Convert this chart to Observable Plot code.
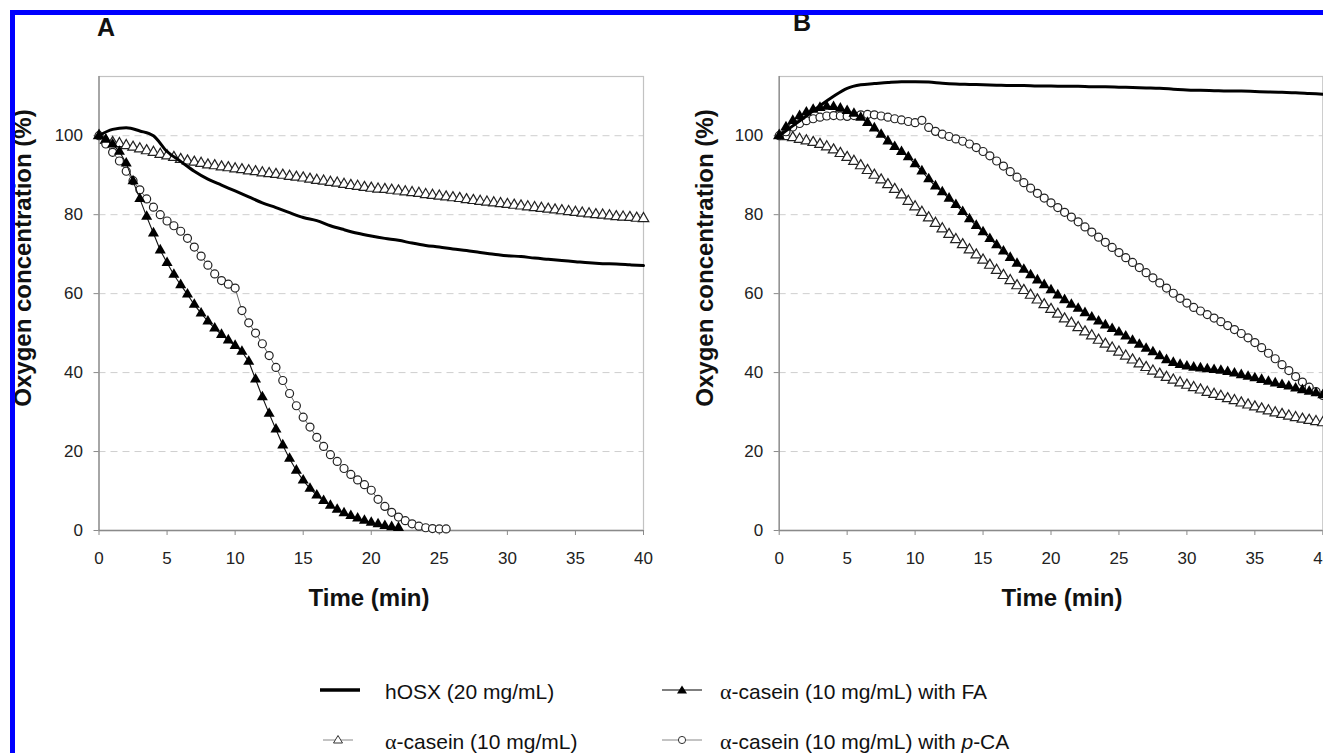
<!DOCTYPE html>
<html>
<head>
<meta charset="utf-8">
<script src="https://cdn.jsdelivr.net/npm/d3@7"></script>
<script src="https://cdn.jsdelivr.net/npm/@observablehq/plot@0.6"></script>
<style>
html,body{margin:0;padding:0;background:#fff;}
body{width:1323px;height:753px;overflow:hidden;position:relative;font-family:"Liberation Sans",Arial,sans-serif;color:#111;}
#border{position:absolute;left:10px;top:10px;width:2000px;height:2000px;border-top:5px solid #0000ff;border-left:5px solid #0000ff;z-index:10;pointer-events:none;}
.panel{position:absolute;top:0;width:700px;height:620px;}
.panel svg{max-width:none !important;width:700px;height:620px;}
.ttl{position:absolute;font-weight:bold;font-size:25px;line-height:1;}
.xl{position:absolute;font-weight:bold;font-size:24px;line-height:1;transform:translateX(-50%);white-space:nowrap;}
.yl{position:absolute;font-weight:bold;font-size:24px;line-height:1;white-space:nowrap;transform:translate(-50%,-50%) rotate(-90deg);}
.leg{position:absolute;font-size:21px;line-height:1;white-space:nowrap;}
.leg .a{font-family:"Liberation Serif","Times New Roman",serif;font-size:22px;}
.sw{position:absolute;}
</style>
</head>
<body>
<div id="border"></div>
<div id="chartA" class="panel" style="left:0px"></div>
<div id="chartB" class="panel" style="left:680px"></div>
<div class="ttl" style="left:97px;top:15px">A</div>
<div class="ttl" style="left:793px;top:10px">B</div>
<div class="xl" style="left:369px;top:586px">Time (min)</div>
<div class="xl" style="left:1062px;top:586px">Time (min)</div>
<div class="yl" style="left:23px;top:258px">Oxygen concentration (%)</div>
<div class="yl" style="left:705px;top:258px">Oxygen concentration (%)</div>
<div id="legend"></div>
<script>
// ---------- data ----------
const xTicks = [0, 5, 10, 15, 20, 25, 30, 35, 40];
const yTicks = [0, 20, 40, 60, 80, 100];
const gridVals = [20, 40, 60, 80, 100];

const tWhole = [0,1,2,3,4,5,6,7,8,9,10,11,12,13,14,15,16,17,18,19,20,21,22,23,24,25,26,27,28,29,30,31,32,33,34,35,36,37,38,39,40];
const tHalf = [0,0.5,1,1.5,2,2.5,3,3.5,4,4.5,5,5.5,6,6.5,7,7.5,8,8.5,9,9.5,10,10.5,11,11.5,12,12.5,13,13.5,14,14.5,15,15.5,16,16.5,17,17.5,18,18.5,19,19.5,20,20.5,21,21.5,22,22.5,23,23.5,24,24.5,25,25.5,26,26.5,27,27.5,28,28.5,29,29.5,30,30.5,31,31.5,32,32.5,33,33.5,34,34.5,35,35.5,36,36.5,37,37.5,38,38.5,39,39.5,40];

// Panel A
const hosxA = [100,101.6,102,101.2,100,96,93.5,91,89,87.5,86,84.5,83,81.8,80.5,79.3,78.5,77.2,76.2,75.3,74.6,74,73.5,72.8,72.2,71.8,71.3,70.9,70.4,70,69.6,69.4,69,68.7,68.4,68.1,67.8,67.6,67.5,67.3,67.1];
const caseinA = [100,98.8,98.3,98,97.5,97.1,96.7,96.2,95.8,95.3,94.9,94.5,94,93.6,93.3,93,92.6,92.4,92.1,91.9,91.6,91.4,91.1,90.9,90.6,90.4,90.2,90,89.7,89.5,89.3,89,88.7,88.5,88.2,88,87.7,87.4,87.2,86.9,86.7,86.5,86.4,86.2,86,85.8,85.6,85.4,85.1,84.9,84.7,84.5,84.3,84.1,83.8,83.6,83.4,83.2,83,82.8,82.6,82.4,82.2,82,81.8,81.6,81.4,81.2,81,80.8,80.6,80.4,80.2,80,79.9,79.7,79.5,79.4,79.3,79.1,79];
const faA = [100,99,97.8,96,93,88.5,84,79.5,75.3,71,67.8,64.8,62.2,59.8,57.2,55,53,51.2,49.6,48.2,46.8,45.3,42.8,38.3,33.8,29.6,25.6,21.6,18.2,15.2,12.7,10.6,8.9,7.5,6.3,5.3,4.4,3.7,3.1,2.5,2,1.6,1.2,0.9,0.7];
const pcaA = [100,97.9,95.8,93.6,91,88.6,86.3,84,81.9,80,78.4,77.2,75.8,74,71.8,69.5,67.2,65,63.3,62.4,61.4,55.7,52.6,50,47.3,44.3,41.3,38,34.7,31.6,28.7,26.2,23.6,21.3,19.2,17.5,15.7,14.2,12.8,11.6,10.2,7.9,6.1,4.6,3.4,2.5,1.7,1.1,0.7,0.5,0.4,0.4];

// Panel B
const hosxB = [100,102.5,105,107.6,110,112,112.9,113.2,113.5,113.7,113.7,113.6,113.3,113.1,113,112.9,112.8,112.7,112.7,112.6,112.6,112.5,112.5,112.4,112.4,112.3,112.2,112.1,112,111.8,111.6,111.5,111.4,111.3,111.3,111.2,111.1,111,110.9,110.7,110.5];
const caseinB = [100,99.8,99.5,99.1,98.7,98.3,97.8,97.2,96.4,95.5,94.5,93.5,92.4,91.2,90,88.8,87.6,86.4,85,83.4,82,80.6,79.2,77.8,76.4,75,73.7,72.4,71.1,69.8,68.5,67.2,65.9,64.6,63.3,62,60.8,59.6,58.4,57.2,56,54.8,53.6,52.5,51.4,50.3,49.3,48.2,47.2,46.2,45.2,44.2,43.2,42.2,41.3,40.4,39.6,38.8,38.1,37.4,36.8,36.2,35.6,35,34.5,34,33.4,32.9,32.3,31.8,31.3,30.8,30.3,29.8,29.4,29,28.6,28.2,27.9,27.6,27.3];
const faB = [100,102.2,103.8,105,105.9,106.6,107.1,107.4,107.3,106.9,106.3,105.6,104.6,103.3,101.9,100.3,98.6,97.2,95.9,94.6,92.8,91,89,87.2,85.7,84.1,82.5,80.7,78.9,77.2,75.6,73.9,72.3,70.7,69.1,67.6,66.1,64.7,63.4,62.2,60.9,59.6,58.4,57.2,56.2,55.1,54,53,52,51.1,50.2,49.2,48.1,47.1,46.1,45.2,44.2,43.2,42.5,42,41.6,41.3,41.1,40.9,40.7,40.5,40.2,39.8,39.4,39,38.6,38.2,37.7,37.3,36.9,36.5,36,35.6,35.2,34.8,34.3];
const pcaB = [100,101,102.2,103.1,103.8,104.3,104.7,105,105.1,105,104.9,105.1,105.3,105.4,105.3,105,104.7,104.3,104,103.6,103.3,103.9,102.1,101.1,100.4,99.8,99.2,98.6,97.9,97,96,94.9,93.6,92.3,90.9,89.5,88.1,86.7,85.4,84.2,83,81.8,80.6,79.4,78.2,76.9,75.6,74.3,73,71.7,70.4,69.1,67.9,66.6,65.3,64,62.7,61.4,60.1,58.8,57.6,56.5,55.6,54.7,53.8,52.9,51.9,50.9,49.9,48.8,47.6,46.3,44.9,43.5,42,40.5,39,37.6,36.3,35.2,34.2];

const legendLabels = ["hOSX (20 mg/mL)", "α-casein (10 mg/mL) with FA", "α-casein (10 mg/mL)", "α-casein (10 mg/mL) with p-CA"];

// ---------- drawing ----------
const pts = (ts, vs) => vs.map((v, i) => ({t: ts[i], v}));
const FONT = "'Liberation Sans', Arial, sans-serif";

function panel(s, left, right) {
  const W = 700;
  return Plot.plot({
    width: W, height: 620,
    marginLeft: left, marginRight: W - right, marginTop: 76, marginBottom: 90,
    x: {domain: [0, 40]},
    y: {domain: [0, 115]},
    style: {fontFamily: FONT, background: "transparent", overflow: "visible"},
    marks: [
      Plot.ruleY(gridVals, {stroke: "#cfcfcf", strokeDasharray: "7,5", strokeWidth: 1}),
      Plot.frame({stroke: "#c2c2c2", strokeWidth: 1.2}),
      Plot.axisY(yTicks, {tickSize: 5, tickPadding: 11, fontSize: 17, stroke: "#8a8a8a", fill: "#222", label: null}),
      Plot.axisX(xTicks, {tickSize: 5, tickPadding: 16, fontSize: 17, stroke: "#8a8a8a", fill: "#222", label: null}),
      Plot.ruleX([0], {stroke: "#8a8a8a", strokeWidth: 1.3}),
      Plot.ruleY([0], {stroke: "#8a8a8a", strokeWidth: 1.3}),
      Plot.line(pts(tHalf, s.casein), {x: "t", y: "v", stroke: "#555", strokeWidth: 0.9}),
      Plot.dot(pts(tHalf, s.casein), {x: "t", y: "v", symbol: "triangle", r: 3.9, fill: "white", stroke: "#222", strokeWidth: 1.2}),
      Plot.line(pts(tHalf, s.pca), {x: "t", y: "v", stroke: "#555", strokeWidth: 0.9}),
      Plot.dot(pts(tHalf, s.pca), {x: "t", y: "v", symbol: "circle", r: 4, fill: "white", stroke: "#222", strokeWidth: 1.2}),
      Plot.line(pts(tHalf, s.fa), {x: "t", y: "v", stroke: "#111", strokeWidth: 1.1}),
      Plot.dot(pts(tHalf, s.fa), {x: "t", y: "v", symbol: "triangle", r: 4.1, fill: "#000", stroke: "none"}),
      Plot.line(pts(tWhole, s.hosx), {x: "t", y: "v", stroke: "#000", strokeWidth: 3, curve: "monotone-x"})
    ]
  });
}

document.getElementById("chartA").append(panel({hosx: hosxA, casein: caseinA, fa: faA, pca: pcaA}, 98.5, 643));
document.getElementById("chartB").append(panel({hosx: hosxB, casein: caseinB, fa: faB, pca: pcaB}, 98.7, 642.3));

// ---------- legend ----------
const leg = document.getElementById("legend");
function swatch(x, y, kind) {
  const ns = "http://www.w3.org/2000/svg";
  const svg = document.createElementNS(ns, "svg");
  svg.setAttribute("width", 50); svg.setAttribute("height", 20);
  svg.setAttribute("class", "sw");
  svg.style.left = x + "px"; svg.style.top = (y - 10) + "px";
  let inner = "";
  if (kind === 0) inner = '<line x1="5" x2="45" y1="10" y2="10" stroke="#000" stroke-width="3.5"/>';
  if (kind === 1) inner = '<line x1="5" x2="45" y1="10" y2="10" stroke="#000" stroke-width="1.2"/><path d="M25,5.5 L30,13.5 L20,13.5Z" fill="#000"/>';
  if (kind === 2) inner = '<line x1="5" x2="35" y1="10" y2="10" stroke="#888" stroke-width="1"/><path d="M20,5.5 L24.5,13 L15.5,13Z" fill="#fff" stroke="#333" stroke-width="1"/>';
  if (kind === 3) inner = '<line x1="5" x2="45" y1="10" y2="10" stroke="#888" stroke-width="1"/><circle cx="25" cy="10" r="3.6" fill="#fff" stroke="#333" stroke-width="1"/>';
  svg.innerHTML = inner;
  leg.append(svg);
}
function label(x, baseline, text) {
  const d = document.createElement("div");
  d.className = "leg";
  d.style.left = x + "px";
  d.style.top = (baseline - 17) + "px";
  const m = text.match(/^α(.*)$/);
  if (m) {
    const pc = m[1].split("p-CA");
    d.innerHTML = '<span class="a">α</span>' + pc[0] + (pc.length > 1 ? '<i>p</i>-CA' : '');
  } else d.textContent = text;
  leg.append(d);
}
swatch(315, 690, 0); label(385, 697.5, legendLabels[0]);
swatch(657, 690, 1); label(720, 697.5, legendLabels[1]);
swatch(318, 740, 2); label(385, 747.5, legendLabels[2]);
swatch(657, 740, 3); label(720, 747.5, legendLabels[3]);
</script>
</body>
</html>
